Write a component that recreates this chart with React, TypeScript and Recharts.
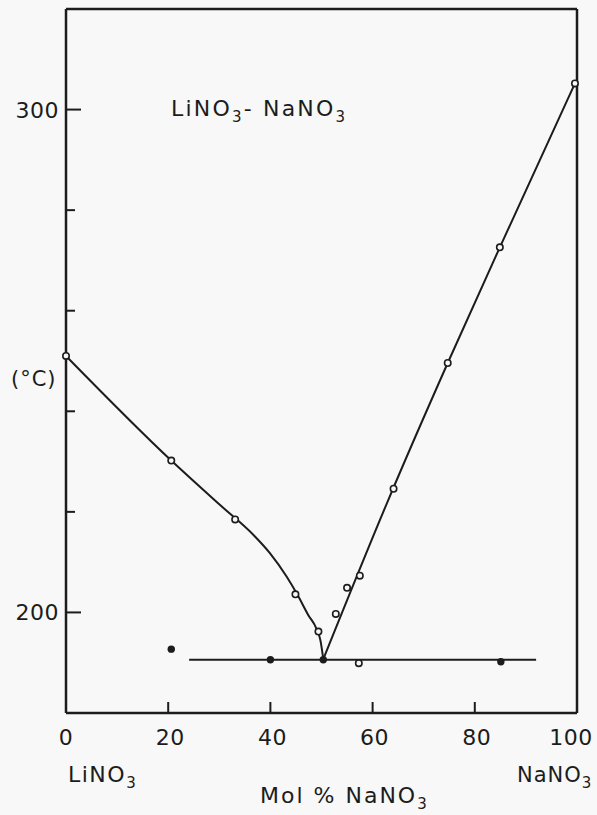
import { ComposedChart, Line, Scatter, XAxis, YAxis } from 'recharts';

// composition axis (mol % NaNO3) and temperature axis (°C)
const compositionTicks = [0, 20, 40, 60, 80, 100];
const temperatureTicks = [180, 200, 220, 240, 260, 280, 300, 320];
const labelledTemps = [200, 300];

// liquidus, LiNO3-rich side (drawn curve)
const leftLiquidusX = [0, 20.6, 30.1, 36.7, 39.9, 43.2, 45.3, 47.4, 49.0, 49.8, 50.35];
const leftLiquidusT = [251, 230.2, 221.4, 215.4, 211.8, 207.1, 203.5, 199.5, 196.8, 194.4, 190.7];

// liquidus, NaNO3-rich side (drawn line)
const rightLiquidusX = [50.35, 63.0, 74.7, 84.9, 99.6];
const rightLiquidusT = [190.7, 222.2, 249.6, 272.6, 305.2];

// eutectic horizontal
const solidusX = [24.1, 92];
const solidusT = [190.6, 190.6];

// measured liquidus points (open circles)
const liquidusPtX = [0, 20.6, 33.1, 44.9, 49.4, 52.8, 55.0, 57.5, 64.1, 74.7, 84.9, 99.6];
const liquidusPtT = [251, 230.2, 218.5, 203.6, 196.2, 199.7, 204.9, 207.3, 224.6, 249.6, 272.6, 305.2];

// measured solidus points
const solidusOpenX = [57.3];
const solidusOpenT = [189.9];
const solidusFilledX = [20.6, 40, 50.35, 85.1];
const solidusFilledT = [192.7, 190.6, 190.6, 190.2];

const zip = (xs: number[], ts: number[]) => xs.map((x, i) => ({ x, t: ts[i] }));

const ink = '#1c1c1c';
const paper = '#f7f8f7';
const font = '"DejaVu Sans", sans-serif';

function LeftTick(props: any) {
  const { x, y, payload } = props;
  const major = labelledTemps.includes(payload.value);
  return (
    <g>
      <line x1={x} y1={y} x2={x + (major ? 15 : 9)} y2={y} stroke={ink} strokeWidth={2} />
      {major && (
        <text x={x - 7} y={y + 8} textAnchor="end" fontSize={22} fontFamily={font} fill={ink} letterSpacing={0.5}>
          {payload.value}
        </text>
      )}
    </g>
  );
}

function RightTick(props: any) {
  const { x, y, payload } = props;
  const len = payload.value === 200 ? 16 : payload.value === 300 ? 14 : 8;
  if (payload.value === 180 || payload.value === 320) return <g />;
  return <line x1={x - len} y1={y} x2={x} y2={y} stroke={ink} strokeWidth={2} />;
}

function BottomTick(props: any) {
  const { x, y, payload } = props;
  const inner = payload.value !== 0 && payload.value !== 100;
  const shift = payload.value === 100 ? -6 : payload.value === 0 ? 0 : 2;
  return (
    <g>
      {inner && <line x1={x} y1={y} x2={x} y2={y - 11} stroke={ink} strokeWidth={2} />}
      <text x={x + shift} y={y + 32} textAnchor="middle" fontSize={22} fontFamily={font} fill={ink} letterSpacing={0.5}>
        {payload.value}
      </text>
    </g>
  );
}

const openDot = (p: any) => (
  <circle cx={p.cx} cy={p.cy} r={3.2} fill={paper} stroke={ink} strokeWidth={1.6} />
);
const filledDot = (p: any) => <circle cx={p.cx} cy={p.cy} r={3.7} fill={ink} stroke="none" />;

export default function App() {
  return (
    <div style={{ position: 'absolute', left: 0, top: 0, width: 597, height: 815, background: paper }}>
      <ComposedChart width={597} height={815} margin={{ top: 8, right: 19, bottom: 72, left: 6 }}>
        <XAxis
          xAxisId="b"
          type="number"
          dataKey="x"
          domain={[0, 100]}
          ticks={compositionTicks}
          tick={BottomTick}
          tickLine={false}
          tickSize={0}
          tickMargin={0}
          height={30}
          axisLine={{ stroke: ink, strokeWidth: 2.5 }}
          interval={0}
        />
        <XAxis
          xAxisId="top"
          orientation="top"
          type="number"
          dataKey="x"
          domain={[0, 100]}
          tick={false}
          tickLine={false}
          height={1}
          axisLine={{ stroke: ink, strokeWidth: 2.5 }}
        />
        <YAxis
          yAxisId="l"
          type="number"
          dataKey="t"
          domain={[180, 320]}
          ticks={temperatureTicks}
          tick={LeftTick}
          tickLine={false}
          tickSize={0}
          tickMargin={0}
          width={60}
          axisLine={{ stroke: ink, strokeWidth: 2.5 }}
          interval={0}
        />
        <YAxis
          yAxisId="r"
          orientation="right"
          type="number"
          domain={[180, 320]}
          ticks={temperatureTicks}
          tick={RightTick}
          tickLine={false}
          tickSize={0}
          tickMargin={0}
          width={1}
          axisLine={{ stroke: ink, strokeWidth: 2.5 }}
          interval={0}
        />
        <Line xAxisId="b" yAxisId="l" data={zip(leftLiquidusX, leftLiquidusT)} dataKey="t" type="monotoneX"
          stroke={ink} strokeWidth={2} dot={false} isAnimationActive={false} />
        <Line xAxisId="b" yAxisId="l" data={zip(rightLiquidusX, rightLiquidusT)} dataKey="t" type="monotoneX"
          stroke={ink} strokeWidth={2} dot={false} isAnimationActive={false} />
        <Line xAxisId="b" yAxisId="l" data={zip(solidusX, solidusT)} dataKey="t" type="linear"
          stroke={ink} strokeWidth={2} dot={false} isAnimationActive={false} />
        <Scatter xAxisId="b" yAxisId="l" data={zip(liquidusPtX, liquidusPtT)} dataKey="t" shape={openDot} isAnimationActive={false} />
        <Scatter xAxisId="b" yAxisId="l" data={zip(solidusOpenX, solidusOpenT)} dataKey="t" shape={openDot} isAnimationActive={false} />
        <Scatter xAxisId="b" yAxisId="l" data={zip(solidusFilledX, solidusFilledT)} dataKey="t" shape={filledDot} isAnimationActive={false} />
      </ComposedChart>
      <svg width={597} height={815} style={{ position: 'absolute', left: 0, top: 0, pointerEvents: 'none' }}
        fontFamily={font} fill={ink}>
        <text x={171} y={116} fontSize={22} letterSpacing={2.2}>
          LiNO<tspan dy={6} fontSize={15}>3</tspan>
          <tspan dy={-6}>-  NaNO</tspan>
          <tspan dy={6} fontSize={15}>3</tspan>
        </text>
        <text x={11} y={386} fontSize={21} letterSpacing={1}>(°C)</text>
        <text x={68} y={782} fontSize={22} letterSpacing={1.5}>
          LiNO<tspan dy={6} fontSize={15}>3</tspan>
        </text>
        <text x={517} y={782} fontSize={21} letterSpacing={1}>
          NaNO<tspan dy={6} fontSize={15}>3</tspan>
        </text>
        <text x={260} y={803} fontSize={22} letterSpacing={2}>
          Mol %  NaNO<tspan dy={6} fontSize={15}>3</tspan>
        </text>
      </svg>
    </div>
  );
}
